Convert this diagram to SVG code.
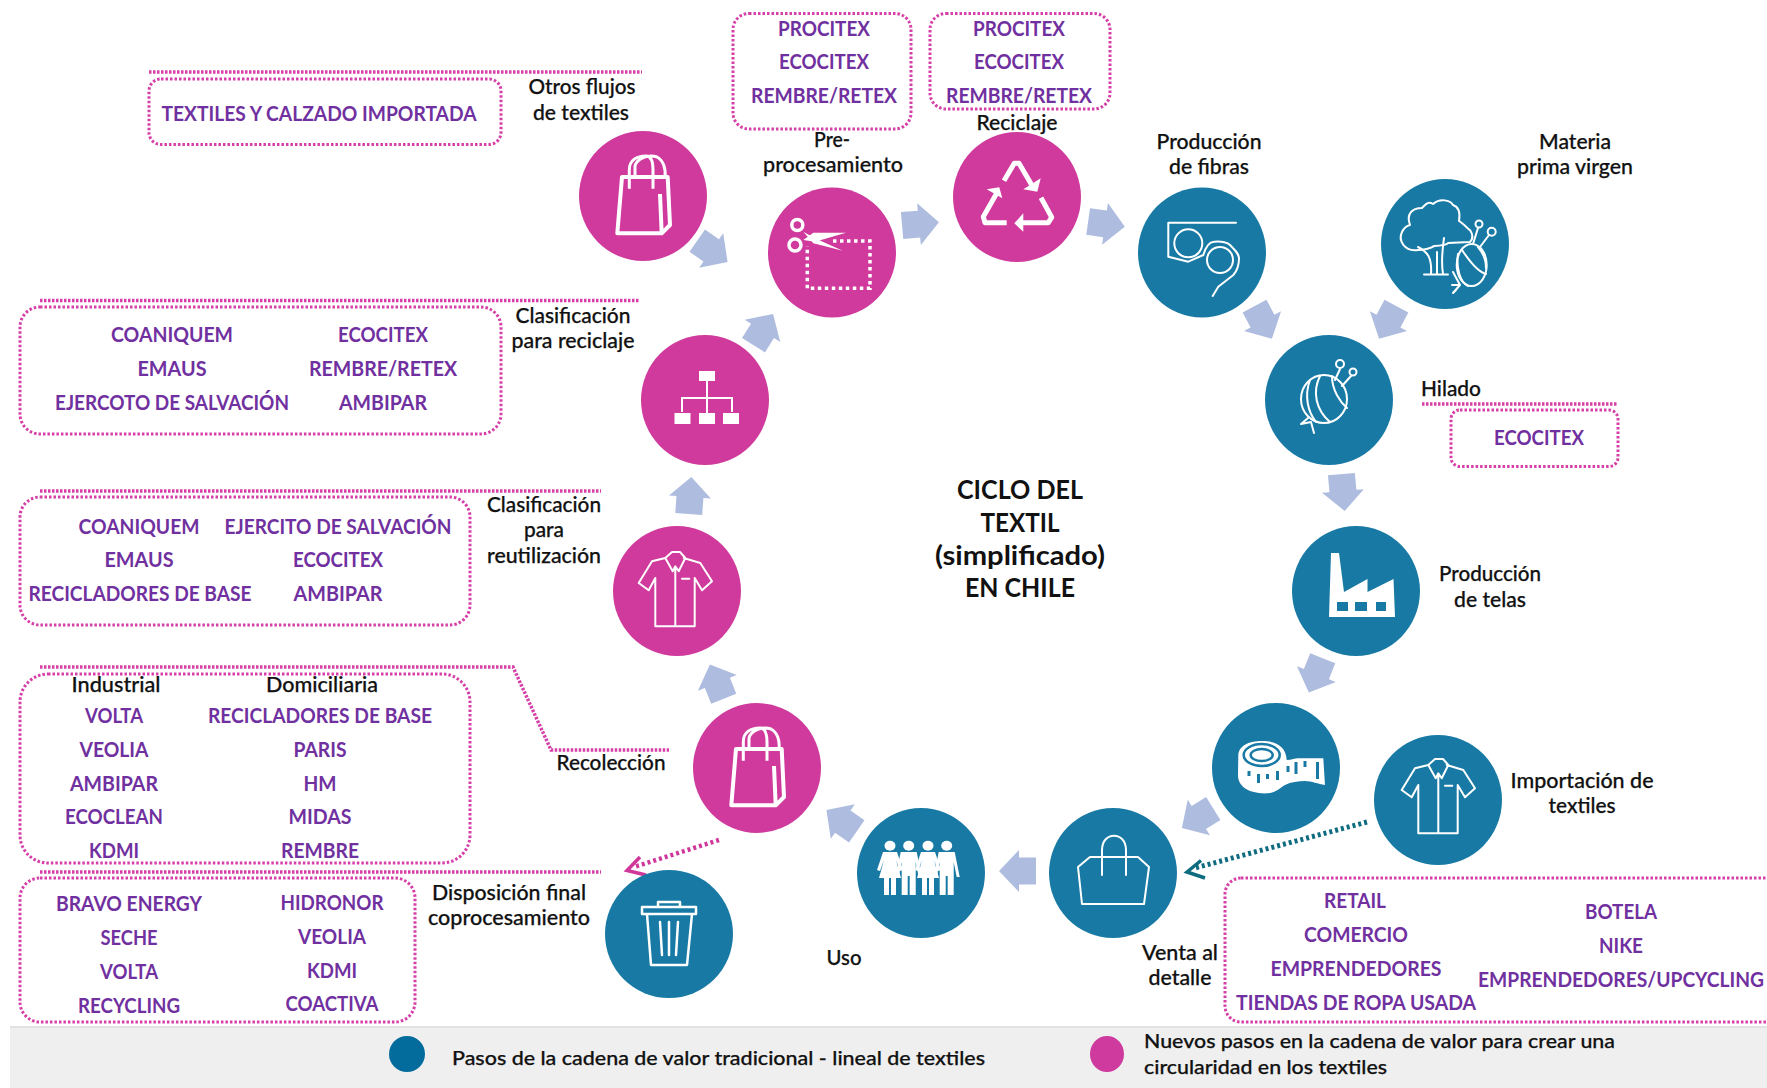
<svg xmlns="http://www.w3.org/2000/svg" width="1767" height="1088" viewBox="0 0 1767 1088">
<style>
text{font-family:Lato,"Open Sans","Liberation Sans",sans-serif;text-anchor:middle}
.p{font-size:21px;font-weight:700;fill:#7030a0;transform:translateY(0.5px)}
.k{font-size:21px;font-weight:500;fill:#111;stroke:#111;stroke-width:.25}
.t{font-size:27px;font-weight:700;fill:#111}
.l{font-size:20px;font-weight:500;fill:#111;stroke:#111;stroke-width:.25}
.box{fill:none;stroke:#d63fa7;stroke-width:3;stroke-dasharray:2.5 2}
.rule{fill:none;stroke:#d63fa7;stroke-width:3.5;stroke-dasharray:2.5 1.5}
.pink{fill:#cf3a9c}
.teal{fill:#187aa4}
.i{fill:none;stroke:#fff;stroke-width:2;stroke-linejoin:round;stroke-linecap:round}
.ib{fill:none;stroke:#fff;stroke-width:4;stroke-linejoin:round;stroke-linecap:butt}
.w{fill:#fff}
.arr{fill:#aebcdf}
.tick{fill:none;stroke:#187aa4;stroke-width:2.500}
</style>
<defs>
<path id="blk" d="M-18-13.500H-1V-21L19 0-1 21V13.500H-18Z"/>
<g id="bag">
<path class="ib" d="M-21-21H24.700L27 27 18.700 35.300H-25.700ZM17-4 18.700 35"/>
<path class="ib" style="stroke-width:3" d="M-13.700-9.300V-28C-13.700-38-6-42 3-42 7-42 10-38 10-28V-9.300M-8-21V-32C-6-40 6-44 14-41 20-38 23-30 22-21"/>
</g>
<g id="shirt">
<path class="i" d="M-9.700-35-23-31.700-36.300-10-26.300-2.700-19.700-15V33.300H19.700V-15L27-2.700 37-11.700 25.300-30 8.700-35M-9.700-35-3-41H5L10.300-35M-9.700-35-2.300-21.700 0.300-26.700 3.700-21.700 10.300-35M0.300-25V33.300M7-14.300H14.300"/>
</g>
<path id="woman" d="M-7 852H7L13 870 10 871 6 860 11 878H6V895H1V878H-1V895H-6V878H-11L-6 860-10 871-13 870Z"/>
<path id="man" d="M-8 852H8L13 877H10L7 862V895H1V876H-1V895H-7V862L-10 877H-13Z"/>
</defs>

<rect x="10" y="1027" width="1757" height="61" fill="#efefef"/>
<path d="M10 1027H1767" stroke="#e2e2e2" stroke-width="2"/>

<g id="connectors">
<use href="#blk" class="arr" transform="translate(712,251) rotate(35)"/>
<use href="#blk" class="arr" transform="translate(763,330) rotate(-58)"/>
<use href="#blk" class="arr" transform="translate(690,496) rotate(-86)"/>
<use href="#blk" class="arr" transform="translate(920,224) rotate(-5)"/>
<use href="#blk" class="arr" transform="translate(1106,224) rotate(8)"/>
<use href="#blk" class="arr" transform="translate(1263,322) rotate(62)"/>
<use href="#blk" class="arr" transform="translate(1388,322) rotate(118)"/>
<use href="#blk" class="arr" transform="translate(1343,492) rotate(85)"/>
<use href="#blk" class="arr" transform="translate(1316,675) rotate(112)"/>
<use href="#blk" class="arr" transform="translate(1198,818) rotate(148)"/>
<use href="#blk" class="arr" transform="translate(1018,871) rotate(180)"/>
<use href="#blk" class="arr" transform="translate(842,821) rotate(-145)"/>
<use href="#blk" class="arr" transform="translate(717,682) rotate(-112)"/>
<path d="M719 840 634 867" fill="none" stroke="#d0379b" stroke-width="4.500" stroke-dasharray="3 3"/>
<path d="M640 857 627 870.500 646 875" fill="none" stroke="#d0379b" stroke-width="3.500"/>
<path d="M1367 822 1195 868" fill="none" stroke="#0f6c80" stroke-width="5" stroke-dasharray="3 3"/>
<path d="M1201 860.500 1187 872 1205 878" fill="none" stroke="#0f6c80" stroke-width="3.500"/>
</g>

<g id="node-otros">
<ellipse class="pink" cx="643" cy="196" rx="64" ry="65"/>
<use href="#bag" x="643" y="198"/>
<text class="k" x="582" y="94" textLength="107" lengthAdjust="spacingAndGlyphs">Otros flujos</text>
<text class="k" x="581" y="120" textLength="96" lengthAdjust="spacingAndGlyphs">de textiles</text>
<path class="rule" d="M149 72H642"/>
<rect class="box" x="149" y="79" width="352" height="65.500" rx="12"/>
<text class="p" x="319" y="120" textLength="315" lengthAdjust="spacingAndGlyphs">TEXTILES Y CALZADO IMPORTADA</text>
</g>

<g id="node-preprocesamiento">
<ellipse class="pink" cx="832" cy="252.500" rx="64" ry="65"/>
<path d="M833 241H870V288.300H807.300V246" fill="none" stroke="#fff" stroke-width="3.500" stroke-dasharray="3.500 3.500"/>
<path class="w" d="M803.300 240 813.300 232.700 846 232.700 815 241.700ZM803.300 231.700 815 238.300 842.700 250.700 813.300 243.300Z"/>
<circle cx="797.300" cy="225" r="5.500" fill="none" stroke="#fff" stroke-width="3.500"/>
<circle cx="795" cy="245" r="6" fill="none" stroke="#fff" stroke-width="3.500"/>
<text class="k" x="832" y="147" textLength="36" lengthAdjust="spacingAndGlyphs">Pre-</text>
<text class="k" x="833" y="172" textLength="140" lengthAdjust="spacingAndGlyphs">procesamiento</text>
<rect class="box" x="733" y="13.500" width="178" height="115.500" rx="16"/>
<text class="p" x="824" y="35" textLength="92" lengthAdjust="spacingAndGlyphs">PROCITEX</text>
<text class="p" x="824" y="68" textLength="90" lengthAdjust="spacingAndGlyphs">ECOCITEX</text>
<text class="p" x="824" y="102" textLength="146" lengthAdjust="spacingAndGlyphs">REMBRE/RETEX</text>
</g>

<g id="node-reciclaje">
<ellipse class="pink" cx="1017" cy="197" rx="64" ry="65"/>
<path d="M1004 180.700 1014.300 163.300H1019L1032.300 186M996.700 193.300 983.300 216.700 985 222.700H1006.700M1041 197.700 1051.700 217.300 1048.300 222.700H1021.700" fill="none" stroke="#fff" stroke-width="5" stroke-linejoin="round"/>
<path class="w" d="M1040.700 178.300 1037.300 191.700 1023.300 189.300ZM986.700 189.300 999.300 187.300 1002.300 198.300ZM1023.300 213.300 1014.300 223.300 1023.300 231.700Z"/>
<text class="k" x="1017" y="130" textLength="81" lengthAdjust="spacingAndGlyphs">Reciclaje</text>
<rect class="box" x="930" y="13.500" width="180" height="95.500" rx="16"/>
<text class="p" x="1019" y="35" textLength="92" lengthAdjust="spacingAndGlyphs">PROCITEX</text>
<text class="p" x="1019" y="68" textLength="90" lengthAdjust="spacingAndGlyphs">ECOCITEX</text>
<text class="p" x="1019" y="102" textLength="146" lengthAdjust="spacingAndGlyphs">REMBRE/RETEX</text>
</g>

<g id="node-fibras">
<ellipse class="teal" cx="1202" cy="252.500" rx="64" ry="65"/>
<path class="i" d="M1236 222.700H1168.300V256.700L1188.300 261.700 1203.300 255C1206 246 1210 241 1215 241.700 1222 241 1228 243 1230 245 1235 250 1239 254 1239 258.300 1239 266 1237 271 1233.300 275L1218.300 286.700 1212.700 296"/>
<circle class="i" cx="1188.300" cy="243.300" r="14"/>
<circle class="i" cx="1220" cy="260" r="13"/>
<text class="k" x="1209" y="149" textLength="105" lengthAdjust="spacingAndGlyphs">Producción</text>
<text class="k" x="1209" y="174" textLength="80" lengthAdjust="spacingAndGlyphs">de fibras</text>
</g>

<g id="node-materia">
<ellipse class="teal" cx="1445" cy="244" rx="64" ry="65"/>
<path class="i" d="M1418 250C1404 252 1398 240 1402 232 1405 226 1410 225 1410 225 1406 214 1412 208 1422 208 1426 204 1428 201 1433 204 1440 198 1450 200 1453 205 1462 208 1459 220 1459 221 1464 224 1469 230 1470 230 1474 236 1472 240 1470 242L1448 243C1448 244 1442 246 1434 246 1432 248 1424 250 1418 250Z"/>
<path class="i" d="M1418 247C1428 252 1432 258 1431 274M1443 274C1441 262 1442 252 1444 238M1424 274.500H1448M1437 252V274"/>
<ellipse cx="1471.700" cy="265" rx="15" ry="21" fill="#187aa4" stroke="#fff" stroke-width="2"/>
<path class="i" d="M1458 254C1456 268 1460 282 1468 286M1462 250C1470 262 1478 272 1486 274M1478 247C1484 254 1486 262 1486 268M1453 272 1460 285 1452 285M1460 285 1453 293 1456 290M1473 244 1478 228M1480 247 1489 235"/>
<circle cx="1479" cy="224" r="3.500" class="i"/><circle cx="1491.700" cy="231.700" r="4" class="i"/>
<text class="k" x="1575" y="149" textLength="72" lengthAdjust="spacingAndGlyphs">Materia</text>
<text class="k" x="1575" y="174" textLength="116" lengthAdjust="spacingAndGlyphs">prima virgen</text>
</g>

<g id="node-hilado">
<ellipse class="teal" cx="1329" cy="400" rx="64" ry="65"/>
<ellipse cx="1324" cy="399" rx="23" ry="24" class="i"/>
<path class="i" d="M1310 380C1304 396 1308 412 1316 422M1320 376C1312 392 1316 410 1330 422M1332 376C1332 390 1340 402 1347 408M1308 418 1301 424 1311 422 1314 433M1335 380 1340 369M1342 386 1351 376"/>
<circle cx="1340" cy="364" r="4" class="i"/><circle cx="1353" cy="372" r="3.500" class="i"/>
<text class="k" x="1451" y="396" textLength="60" lengthAdjust="spacingAndGlyphs">Hilado</text>
<path class="rule" d="M1422 404H1617"/>
<rect class="box" x="1451" y="410" width="167" height="56.500" rx="9"/>
<text class="p" x="1539" y="444" textLength="90" lengthAdjust="spacingAndGlyphs">ECOCITEX</text>
</g>

<g id="node-telas">
<ellipse class="teal" cx="1356" cy="591" rx="64" ry="65"/>
<path class="w" d="M1331 553H1339L1344 592 1367.500 579V592L1393.500 579 1395 617H1329Z"/>
<path class="teal" d="M1337 602h11v9h-11zM1355 602h12v9h-12zM1376 602h10v9h-10z"/>
<text class="k" x="1490" y="581" textLength="102" lengthAdjust="spacingAndGlyphs">Producción</text>
<text class="k" x="1490" y="607" textLength="72" lengthAdjust="spacingAndGlyphs">de telas</text>
</g>

<g id="node-confeccion">
<ellipse class="teal" cx="1276" cy="768" rx="64" ry="65"/>
<path class="w" d="M1238.300 756C1238.300 745 1250 741 1262 741 1274 741 1286 745 1286.700 760 1292 760 1296 758 1298.300 758.300H1323.300L1325 785C1318 784 1312 781 1305 781 1298 781 1291 782 1285 785 1280 788 1275 793 1268 793.300 1258 794 1250 791 1248 790 1240 786 1238 780 1238 775Z"/>
<ellipse cx="1261.700" cy="755" rx="18" ry="11" class="tick" stroke-width="2"/>
<ellipse cx="1261.700" cy="755" rx="11" ry="6" class="tick"/>
<path class="tick" d="M1249 771V776M1258.500 774V783M1267.500 774V779M1277.500 771V780M1288 766V772M1296 762V774M1305 761V767M1317.500 762V779" style="stroke-width:3"/>
</g>

<g id="node-importacion">
<ellipse class="teal" cx="1438" cy="800" rx="64" ry="65"/>
<use href="#shirt" x="1438" y="800"/>
<text class="k" x="1582" y="787.500" textLength="143" lengthAdjust="spacingAndGlyphs">Importación de</text>
<text class="k" x="1582" y="813" textLength="67" lengthAdjust="spacingAndGlyphs">textiles</text>
</g>

<g id="node-venta">
<ellipse class="teal" cx="1113" cy="873" rx="64" ry="65"/>
<path class="i" d="M1082 904H1144L1149 867 1138 857H1090L1078 867ZM1102 875V850C1102 831 1126 831 1126 850V875"/>
<text class="k" x="1180" y="959.500" textLength="76" lengthAdjust="spacingAndGlyphs">Venta al</text>
<text class="k" x="1180" y="985" textLength="63" lengthAdjust="spacingAndGlyphs">detalle</text>
<rect class="box" x="1225" y="878" width="560" height="144" rx="16"/>
<text class="p" x="1355" y="907" textLength="62" lengthAdjust="spacingAndGlyphs">RETAIL</text>
<text class="p" x="1356" y="941" textLength="104" lengthAdjust="spacingAndGlyphs">COMERCIO</text>
<text class="p" x="1356" y="975" textLength="171" lengthAdjust="spacingAndGlyphs">EMPRENDEDORES</text>
<text class="p" x="1356" y="1009" textLength="240" lengthAdjust="spacingAndGlyphs">TIENDAS DE ROPA USADA</text>
<text class="p" x="1621" y="918.500" textLength="72" lengthAdjust="spacingAndGlyphs">BOTELA</text>
<text class="p" x="1621" y="952" textLength="44" lengthAdjust="spacingAndGlyphs">NIKE</text>
<text class="p" x="1621" y="986" textLength="286" lengthAdjust="spacingAndGlyphs">EMPRENDEDORES/UPCYCLING</text>
</g>

<g id="node-uso">
<ellipse class="teal" cx="921" cy="873" rx="64" ry="65"/>
<g class="w">
<ellipse cx="890" cy="845.700" rx="5.500" ry="5"/><ellipse cx="908.700" cy="845.700" rx="5.500" ry="5"/><ellipse cx="928" cy="845.700" rx="5.500" ry="5"/><ellipse cx="946.700" cy="845.700" rx="5.500" ry="5"/>
<use href="#woman" x="890"/><use href="#man" x="908.700"/><use href="#woman" x="928"/><use href="#man" x="946.700"/>
</g>
<text class="k" x="844" y="965" textLength="35" lengthAdjust="spacingAndGlyphs">Uso</text>
</g>

<g id="node-recoleccion">
<ellipse class="pink" cx="757" cy="768" rx="64" ry="65"/>
<use href="#bag" x="757" y="770"/>
<text class="k" x="611" y="770" textLength="109" lengthAdjust="spacingAndGlyphs">Recolección</text>
<path class="rule" d="M40 667H513L551 750H669"/>
<rect class="box" x="20" y="674" width="450" height="189" rx="28"/>
<text class="k" x="116" y="692" textLength="89" lengthAdjust="spacingAndGlyphs">Industrial</text>
<text class="k" x="322" y="692" textLength="112" lengthAdjust="spacingAndGlyphs">Domiciliaria</text>
<text class="p" x="114" y="722" textLength="58" lengthAdjust="spacingAndGlyphs">VOLTA</text>
<text class="p" x="320" y="722" textLength="224" lengthAdjust="spacingAndGlyphs">RECICLADORES DE BASE</text>
<text class="p" x="114" y="756" textLength="69" lengthAdjust="spacingAndGlyphs">VEOLIA</text>
<text class="p" x="320" y="756" textLength="53" lengthAdjust="spacingAndGlyphs">PARIS</text>
<text class="p" x="114" y="790" textLength="88" lengthAdjust="spacingAndGlyphs">AMBIPAR</text>
<text class="p" x="320" y="790" textLength="33" lengthAdjust="spacingAndGlyphs">HM</text>
<text class="p" x="114" y="823" textLength="98" lengthAdjust="spacingAndGlyphs">ECOCLEAN</text>
<text class="p" x="320" y="823" textLength="63" lengthAdjust="spacingAndGlyphs">MIDAS</text>
<text class="p" x="114" y="857" textLength="50" lengthAdjust="spacingAndGlyphs">KDMI</text>
<text class="p" x="320" y="857" textLength="78" lengthAdjust="spacingAndGlyphs">REMBRE</text>
</g>

<g id="node-disposicion">
<ellipse class="teal" cx="669" cy="934" rx="64" ry="64"/>
<path class="i" d="M647 914 651 965H687L692 914M642 907H696V914H642ZM658 907V902H680V907M660 922 662 955M669 922V955M678 922 676 955" style="stroke-width:2.500"/>
<text class="k" x="509" y="900" textLength="154" lengthAdjust="spacingAndGlyphs">Disposición final</text>
<text class="k" x="509" y="925" textLength="162" lengthAdjust="spacingAndGlyphs">coprocesamiento</text>
<path class="rule" d="M40 872H601"/>
<rect class="box" x="20" y="878" width="395" height="144" rx="20"/>
<text class="p" x="129" y="910.500" textLength="146" lengthAdjust="spacingAndGlyphs">BRAVO ENERGY</text>
<text class="p" x="129" y="944" textLength="57" lengthAdjust="spacingAndGlyphs">SECHE</text>
<text class="p" x="129" y="978" textLength="58" lengthAdjust="spacingAndGlyphs">VOLTA</text>
<text class="p" x="129" y="1012" textLength="102" lengthAdjust="spacingAndGlyphs">RECYCLING</text>
<text class="p" x="332" y="909" textLength="103" lengthAdjust="spacingAndGlyphs">HIDRONOR</text>
<text class="p" x="332" y="943" textLength="68" lengthAdjust="spacingAndGlyphs">VEOLIA</text>
<text class="p" x="332" y="977" textLength="50" lengthAdjust="spacingAndGlyphs">KDMI</text>
<text class="p" x="332" y="1010" textLength="93" lengthAdjust="spacingAndGlyphs">COACTIVA</text>
</g>

<g id="node-reutilizacion">
<ellipse class="pink" cx="677" cy="591" rx="64" ry="65"/>
<use href="#shirt" x="675" y="593"/>
<text class="k" x="544" y="512" textLength="114" lengthAdjust="spacingAndGlyphs">Clasificación</text>
<text class="k" x="544" y="537" textLength="40" lengthAdjust="spacingAndGlyphs">para</text>
<text class="k" x="544" y="563" textLength="114" lengthAdjust="spacingAndGlyphs">reutilización</text>
<path class="rule" d="M40 491H601"/>
<rect class="box" x="20" y="497" width="450" height="128" rx="20"/>
<text class="p" x="139" y="533" textLength="121" lengthAdjust="spacingAndGlyphs">COANIQUEM</text>
<text class="p" x="338" y="533" textLength="227" lengthAdjust="spacingAndGlyphs">EJERCITO DE SALVACIÓN</text>
<text class="p" x="139" y="566" textLength="69" lengthAdjust="spacingAndGlyphs">EMAUS</text>
<text class="p" x="338" y="566" textLength="90" lengthAdjust="spacingAndGlyphs">ECOCITEX</text>
<text class="p" x="140" y="600" textLength="223" lengthAdjust="spacingAndGlyphs">RECICLADORES DE BASE</text>
<text class="p" x="338" y="600" textLength="89" lengthAdjust="spacingAndGlyphs">AMBIPAR</text>
</g>

<g id="node-clasificacion-reciclaje">
<ellipse class="pink" cx="705" cy="400" rx="64" ry="65"/>
<path class="w" d="M699 371h16v10h-16zM674.500 413h16v11h-16zM699 413h16v11h-16zM723 413h16v11h-16z"/>
<path d="M707 381V413M682 412V398H732V412" fill="none" stroke="#fff" stroke-width="2"/>
<text class="k" x="573" y="323" textLength="115" lengthAdjust="spacingAndGlyphs">Clasificación</text>
<text class="k" x="573" y="348" textLength="123" lengthAdjust="spacingAndGlyphs">para reciclaje</text>
<path class="rule" d="M40 300.500H640"/>
<rect class="box" x="20" y="307" width="481" height="127" rx="20"/>
<text class="p" x="172" y="341" textLength="122" lengthAdjust="spacingAndGlyphs">COANIQUEM</text>
<text class="p" x="383" y="341" textLength="90" lengthAdjust="spacingAndGlyphs">ECOCITEX</text>
<text class="p" x="172" y="375" textLength="69" lengthAdjust="spacingAndGlyphs">EMAUS</text>
<text class="p" x="383" y="375" textLength="148" lengthAdjust="spacingAndGlyphs">REMBRE/RETEX</text>
<text class="p" x="172" y="409" textLength="234" lengthAdjust="spacingAndGlyphs">EJERCOTO DE SALVACIÓN</text>
<text class="p" x="383" y="409" textLength="88" lengthAdjust="spacingAndGlyphs">AMBIPAR</text>
</g>

<g id="title">
<text class="t" x="1020" y="499" textLength="126" lengthAdjust="spacingAndGlyphs">CICLO DEL</text>
<text class="t" x="1020" y="532" textLength="79" lengthAdjust="spacingAndGlyphs">TEXTIL</text>
<text class="t" x="1020" y="564.500" textLength="170" lengthAdjust="spacingAndGlyphs">(simplificado)</text>
<text class="t" x="1020" y="597" textLength="110" lengthAdjust="spacingAndGlyphs">EN CHILE</text>
</g>

<g id="legend">
<ellipse cx="407" cy="1054" rx="18" ry="18" fill="#036c9c"/>
<text class="l" x="718.500" y="1065" textLength="533" lengthAdjust="spacingAndGlyphs">Pasos de la cadena de valor tradicional - lineal de textiles</text>
<ellipse cx="1107" cy="1054" rx="17" ry="18" fill="#cf3a9e"/>
<text class="l" x="1379.500" y="1048" textLength="471" lengthAdjust="spacingAndGlyphs">Nuevos pasos en la cadena de valor para crear una</text>
<text class="l" x="1265.500" y="1074" textLength="243" lengthAdjust="spacingAndGlyphs">circularidad en los textiles</text>
</g>
</svg>
